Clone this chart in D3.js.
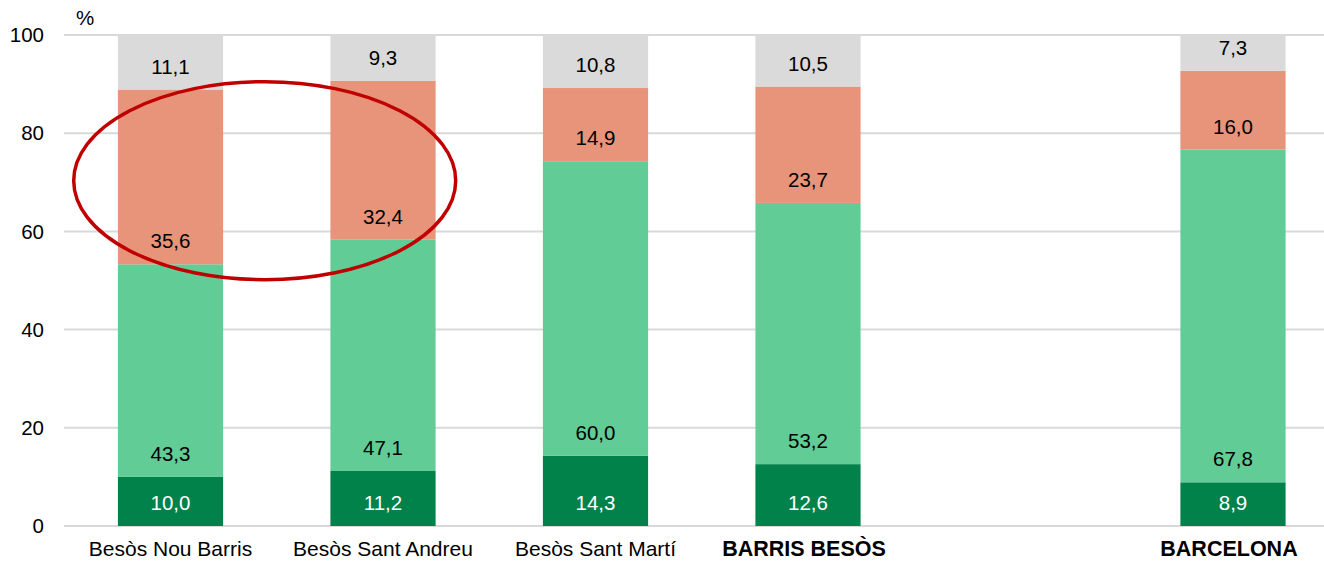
<!DOCTYPE html>
<html><head><meta charset="utf-8">
<script src="https://cdn.jsdelivr.net/npm/d3@7/dist/d3.min.js"></script>
<style>body{margin:0;background:#fff;} text{font-family:"Liberation Sans",Arial,sans-serif;}</style>
</head><body>
<svg id="chart" width="1324" height="561"></svg>
<script>
const categories = ["Besòs Nou Barris", "Besòs Sant Andreu", "Besòs Sant Martí", "BARRIS BESÒS", "", "BARCELONA"];
const boldCategories = ["BARRIS BESÒS", "BARCELONA"];
const seriesNames = ["s1", "s2", "s3", "s4"];
const s1 = [10.0, 11.2, 14.3, 12.6, null, 8.9];
const s2 = [43.3, 47.1, 60.0, 53.2, null, 67.8];
const s3 = [35.6, 32.4, 14.9, 23.7, null, 16.0];
const s4 = [11.1, 9.3, 10.8, 10.5, null, 7.3];
const yTicks = [0, 20, 40, 60, 80, 100];
const colors = ["#00824a", "#62cc96", "#e8947b", "#dadada"];
const labelColors = ["#ffffff", "#000000", "#000000", "#000000"];

const svg = d3.select("#chart");
const x = d3.scaleBand().domain(categories.map((c,i)=>i)).range([64.25, 1339.25]).paddingInner(0.505).paddingOuter(0.2525);
const y = d3.scaleLinear().domain([0, 100]).range([526, 35]);
const fs = 20.5;

// gridlines
svg.append("g").selectAll("line").data(yTicks).join("line")
  .attr("x1", 64).attr("x2", 1324)
  .attr("y1", d => y(d)).attr("y2", d => y(d))
  .attr("stroke", "#d9d9d9").attr("stroke-width", 2);

// y tick labels
svg.append("g").selectAll("text").data(yTicks).join("text")
  .attr("x", 44).attr("y", d => y(d)).attr("dy", "0.35em")
  .attr("text-anchor", "end").attr("font-size", fs).attr("fill", "#000")
  .text(d => d);

svg.append("text").attr("x", 76).attr("y", 25).attr("font-size", fs).text("%");

const series = [s1, s2, s3, s4];
const bw = x.bandwidth();
series.forEach((vals, si) => {
  const g = svg.append("g");
  const data = vals.map((v, i) => {
    if (v == null) return null;
    let base = 0;
    for (let k = 0; k < si; k++) base += series[k][i];
    return {i, v, base};
  }).filter(d => d);
  g.selectAll("rect").data(data).join("rect")
    .attr("x", d => x(d.i)).attr("width", bw)
    .attr("y", d => y(d.base + d.v)).attr("height", d => y(d.base) - y(d.base + d.v))
    .attr("fill", colors[si]);
  g.selectAll("text").data(data).join("text")
    .attr("x", d => x(d.i) + bw / 2).attr("y", d => y(d.base) - 23).attr("dy", "0.35em")
    .attr("text-anchor", "middle").attr("font-size", fs).attr("fill", labelColors[si])
    .text(d => d.v.toFixed(1).replace(".", ","));
});

// category labels
svg.append("g").selectAll("text").data(categories.map((c,i)=>({c,i})).filter(d=>d.c)).join("text")
  .attr("x", d => x(d.i) + bw / 2 - (boldCategories.includes(d.c) ? 4 : 0)).attr("y", 556)
  .attr("text-anchor", "middle")
  .attr("font-size", d => boldCategories.includes(d.c) ? 21.5 : 21)
  .attr("font-weight", d => boldCategories.includes(d.c) ? "bold" : "normal")
  .text(d => d.c);

// highlight ellipse
svg.append("ellipse").attr("cx", 264.7).attr("cy", 180.7).attr("rx", 191).attr("ry", 99)
  .attr("fill", "none").attr("stroke", "#c00000").attr("stroke-width", 3.5);
</script>
</body></html>
